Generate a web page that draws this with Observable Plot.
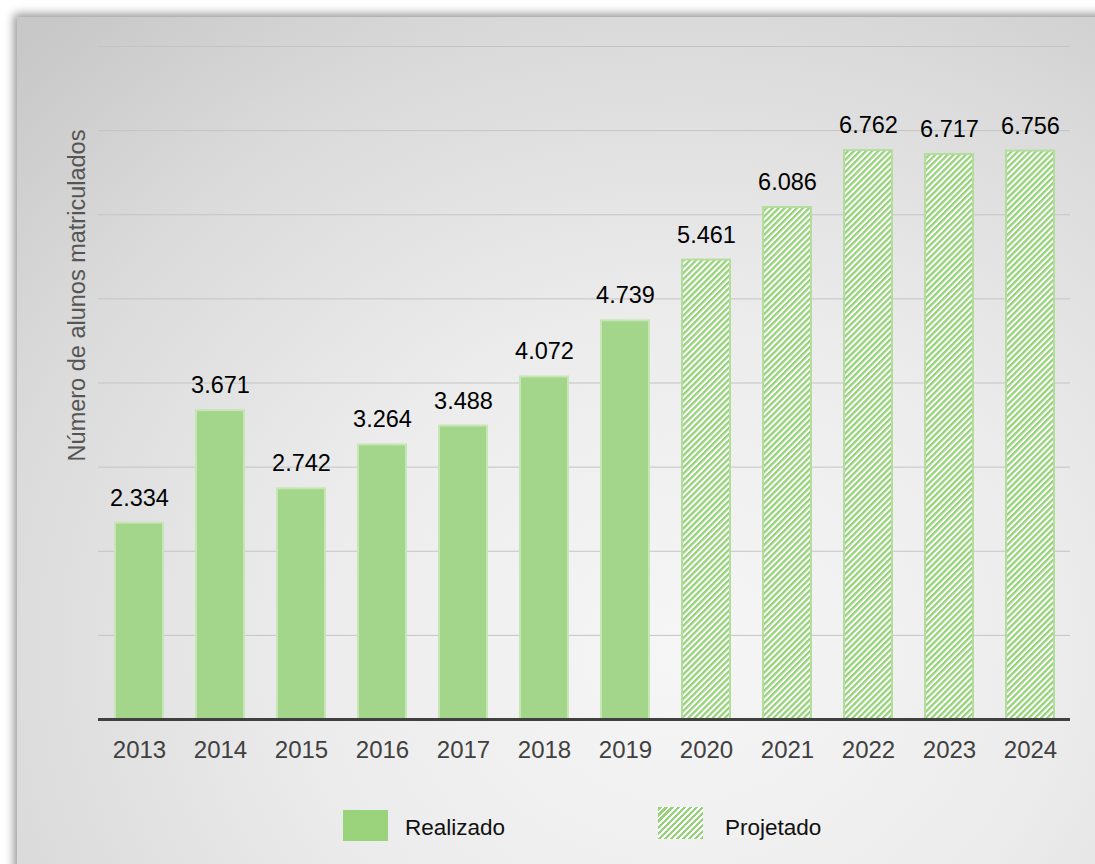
<!DOCTYPE html>
<html>
<head>
<meta charset="utf-8">
<script src="https://cdn.jsdelivr.net/npm/d3@7"></script>
<script src="https://cdn.jsdelivr.net/npm/@observablehq/plot@0.6"></script>
<style>
  html, body { margin: 0; padding: 0; background: #ffffff; overflow: hidden; width: 1095px; height: 864px; }
  body { position: relative; font-family: "Liberation Sans", Arial, sans-serif; }
  #frame {
    position: absolute; left: 17px; top: 17px; width: 1110px; height: 880px;
    background: radial-gradient(ellipse 85% 95% at 60% 72%, #f6f6f6 0%, #ececec 40%, #dadada 75%, #c8c8c8 100%);
    box-shadow: 0 0 9px 3px rgba(0,0,0,0.42);
  }
  #chart { position: absolute; left: 0; top: 0; }
  .sw { position: absolute; width: 45px; height: 31px; }
  .lg { position: absolute; font-size: 22.5px; color: #111; line-height: 22px; }
</style>
</head>
<body>
<div id="frame"></div>
<div id="chart"></div>
<div class="sw" style="left:343px; top:810px; background:#9bd37d;"></div>
<div class="lg" style="left:405px; top:817px;">Realizado</div>
<div class="sw" style="left:658px; top:807px; height:32px; background: repeating-linear-gradient(-45deg, #96d27a 0px, #96d27a 2.3px, #ffffff 2.3px, #ffffff 4.3px);"></div>
<div class="lg" style="left:725px; top:817px;">Projetado</div>
<script>
const years = ["2013","2014","2015","2016","2017","2018","2019","2020","2021","2022","2023","2024"];
const values = [2334, 3671, 2742, 3264, 3488, 4072, 4739, 5461, 6086, 6762, 6717, 6756];
const kinds = ["Realizado","Realizado","Realizado","Realizado","Realizado","Realizado","Realizado","Projetado","Projetado","Projetado","Projetado","Projetado"];
const gridTicks = [1000, 2000, 3000, 4000, 5000, 6000, 7000, 8000];
const yTitle = "Número de alunos matriculados";

const data = years.map((y, i) => ({year: y, value: values[i], kind: kinds[i]}));
const fmt = d3.formatLocale({decimal: ",", thousands: ".", grouping: [3], currency: ["", ""]}).format(",");

const defs = () => {
  const svg = d3.create("svg:defs");
  const p = svg.append("pattern")
    .attr("id", "stripes")
    .attr("patternUnits", "userSpaceOnUse")
    .attr("width", 4.3).attr("height", 4.3)
    .attr("patternTransform", "rotate(45)");
  p.append("rect").attr("width", 4.3).attr("height", 4.3).attr("fill", "#ffffff");
  p.append("rect").attr("width", 2.3).attr("height", 4.3).attr("fill", "#96d27a");
  return svg.node();
};

const chart = Plot.plot({
  width: 1095,
  height: 780,
  marginLeft: 98,
  marginRight: 25,
  marginTop: 46,
  marginBottom: 61,
  style: {background: "transparent", fontFamily: "'Liberation Sans', Arial, sans-serif", fontSize: "24px", color: "#404040"},
  x: {domain: years, paddingInner: 0.41, paddingOuter: 0.205, label: null, tickSize: 0, tickPadding: 21},
  y: {domain: [0, 8000], axis: null},
  marks: [
    defs,
    Plot.ruleY(gridTicks, {stroke: "#c4c4c4", strokeWidth: 1}),
    Plot.barY(data.filter(d => d.kind === "Realizado"), {x: "year", y: "value", fill: "#a3d58b", stroke: "#c6e6b6", strokeWidth: 2}),
    Plot.barY(data.filter(d => d.kind === "Projetado"), {x: "year", y: "value", fill: "url(#stripes)", stroke: "#b2dd9c", strokeWidth: 2}),
    Plot.ruleY([0], {stroke: "#404040", strokeWidth: 3}),
    Plot.text(data, {x: "year", y: "value", text: d => fmt(d.value), dy: -25, lineAnchor: "middle", fill: "#000000", fontSize: 23.5}),
    Plot.text([yTitle], {text: d => d, frameAnchor: "top-left", dx: -21, dy: 249, rotate: -90, textAnchor: "middle", lineAnchor: "middle", fill: "#555555", fontSize: 23.5})
  ]
});
document.getElementById("chart").appendChild(chart);
</script>
</body>
</html>
